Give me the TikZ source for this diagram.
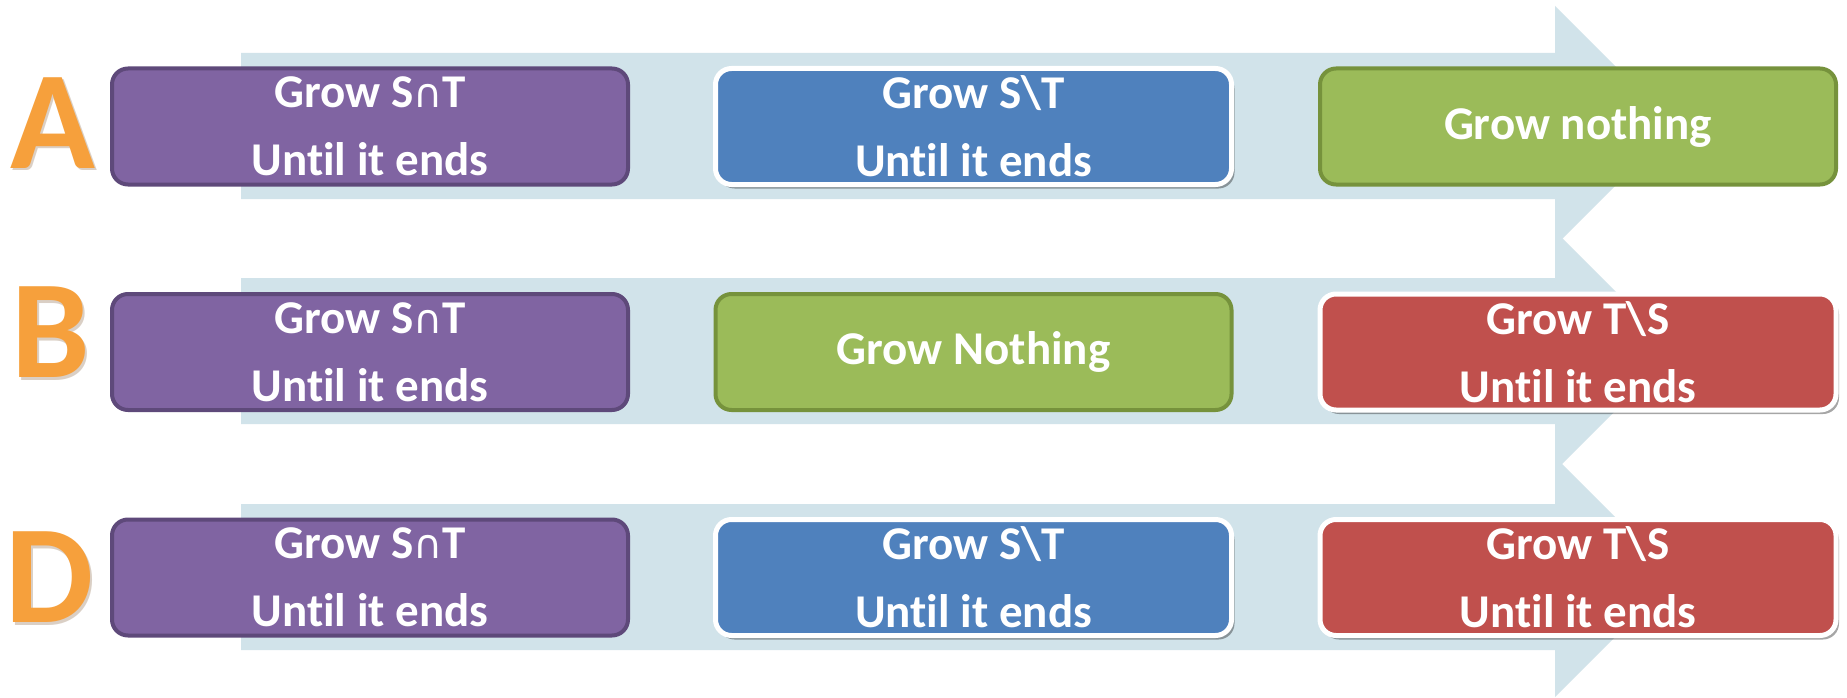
\documentclass[tikz,border=0pt]{standalone}
\usepackage{fontspec}
\setmainfont{Carlito}[Ligatures={NoCommon}]
\newfontfamily\symfont{DejaVu Sans}
\usetikzlibrary{shadows}

\definecolor{band}{RGB}{209,227,234}
\definecolor{purpfill}{RGB}{128,100,162}
\definecolor{purpline}{RGB}{94,73,122}
\definecolor{bluefill}{RGB}{79,129,189}
\definecolor{greenfill}{RGB}{155,187,89}
\definecolor{greenline}{RGB}{118,146,60}
\definecolor{redfill}{RGB}{192,80,77}
\definecolor{lettercol}{RGB}{246,160,60}
\definecolor{lettershade}{RGB}{150,120,90}

% thin intersection sign inside the bold labels
\newcommand{\capsym}{{\symfont\mdseries\fontsize{40}{40}\selectfont ∩}}

\tikzset{
  stage/.style={rounded corners=16pt, minimum width=516pt, minimum height=116pt,
    inner sep=0pt, text=white, align=center,
    font=\bfseries\fontsize{47}{68}\selectfont},
  darkedge/.style={stage, line width=4pt},
  whiteedge/.style={stage, draw=white, line width=5pt,
    drop shadow={shadow xshift=3pt, shadow yshift=-4pt, opacity=0.35, fill=black}},
  purplebox/.style={darkedge, fill=purpfill, draw=purpline},
  greenbox/.style={darkedge, fill=greenfill, draw=greenline},
  bluebox/.style={whiteedge, fill=bluefill},
  redbox/.style={whiteedge, fill=redfill},
  letter/.style={anchor=base, inner sep=0pt, text=lettercol,
    font=\bfseries\fontsize{140}{140}\selectfont},
  lettershadow/.style={letter, text=lettershade, opacity=0.35},
  bandarrow/.style={fill=band}
}

\begin{document}
\begin{tikzpicture}[x=1pt, y=-1pt]
  \useasboundingbox (0,0) rectangle (1847,698);
  \fill[white] (0,0) rectangle (1847,698);

  % timeline arrows behind each row
  \foreach \m in {126, 351, 577}{
    \fill[bandarrow] (241,\m-73) -- (1555,\m-73) -- (1555,\m-120)
      -- (1675,\m) -- (1555,\m+120) -- (1555,\m+73) -- (241,\m+73) -- cycle;
  }

  % row letters
  \node[lettershadow] at (55,171) {A};
  \node[letter] (labA) at (53,168) {A};
  \node[lettershadow] at (53,380) {B};
  \node[letter] (labB) at (51,377) {B};
  \node[lettershadow] at (52,625) {D};
  \node[letter] (labD) at (50,622) {D};

  % row A
  \node[purplebox] (a1) at (370,126.5) {Grow S\capsym T\\Until it ends};
  \node[bluebox]   (a2) at (973.5,126.5) {Grow S\textbackslash T\\Until it ends};
  \node[greenbox]  (a3) at (1578,126.5) {Grow nothing};

  % row B
  \node[purplebox] (b1) at (370,352) {Grow S\capsym T\\Until it ends};
  \node[greenbox]  (b2) at (973.5,352) {Grow Nothing};
  \node[redbox]    (b3) at (1578,352) {Grow T\textbackslash S\\Until it ends};

  % row D
  \node[purplebox] (d1) at (370,577.5) {Grow S\capsym T\\Until it ends};
  \node[bluebox]   (d2) at (973.5,577.5) {Grow S\textbackslash T\\Until it ends};
  \node[redbox]    (d3) at (1578,577.5) {Grow T\textbackslash S\\Until it ends};
\end{tikzpicture}
\end{document}
